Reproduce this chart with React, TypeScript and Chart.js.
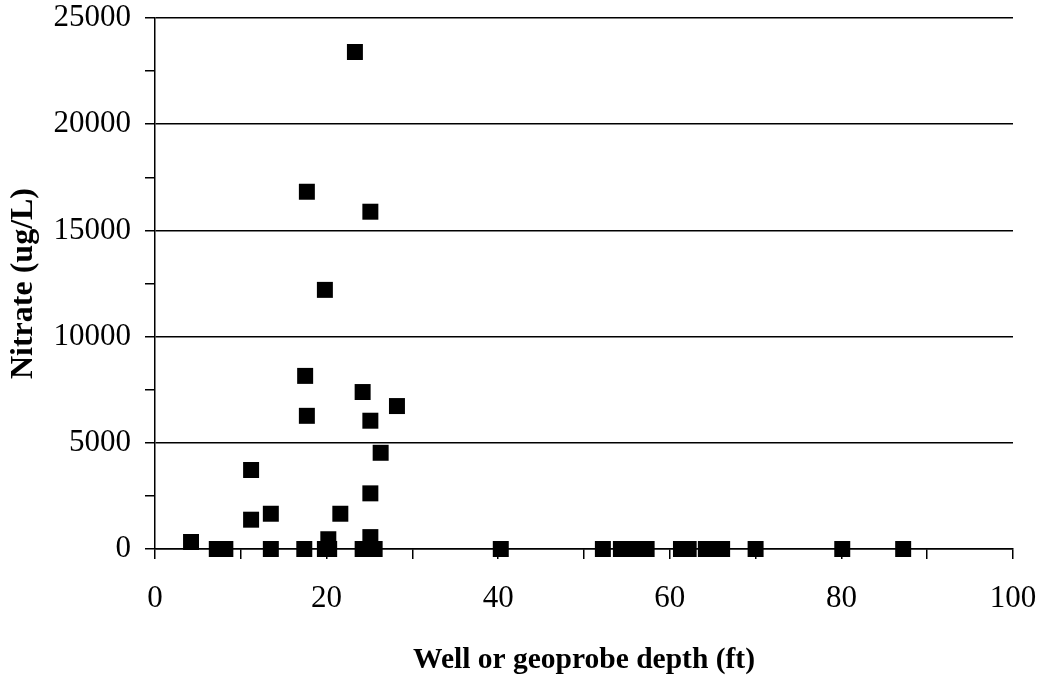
import React, { useEffect, useRef } from "react";
import { Chart, registerables } from "chart.js";

Chart.register(...registerables);

// Well or geoprobe depth (ft)
const depthFt: number[] = [
  23.3, 17.7, 25.1, 19.8, 17.5, 17.7, 24.2, 25.1, 28.2, 26.3,
  11.2, 11.2, 13.5, 21.6, 25.1, 4.2, 20.2, 25.1,
  7.2, 8.2, 13.5, 17.4, 19.8, 20.3, 24.2, 25.6,
  40.3, 52.2, 54.3, 55.3, 56.3, 57.3, 61.3, 62.2, 64.2, 65.1, 66.1, 70.0, 80.1, 87.2,
];

// Nitrate (ug/L)
const nitrateUgL: number[] = [
  23400, 16820, 15880, 12200, 8150, 6270, 7390, 6040, 6730, 4530,
  3720, 1380, 1660, 1660, 2620, 330, 460, 560,
  0, 0, 0, 0, 0, 0, 0, 0,
  0, 0, 0, 0, 0, 0, 0, 0, 0, 0, 0, 0, 0, 0,
];

const xTickLabels: string[] = ["0", "20", "40", "60", "80", "100"];
const yTickLabels: string[] = ["0", "5000", "10000", "15000", "20000", "25000"];

const xTitle = "Well or geoprobe depth (ft)";
const yTitle = "Nitrate (ug/L)";

const FONT = "'Liberation Serif', 'Times New Roman', serif";

export default function App() {
  const canvasRef = useRef<HTMLCanvasElement | null>(null);

  useEffect(() => {
    if (!canvasRef.current) return;
    const points = depthFt.map((x, i) => ({ x, y: nitrateUgL[i] }));
    const chart = new Chart(canvasRef.current, {
      type: "scatter",
      data: {
        datasets: [
          {
            label: "Nitrate",
            data: points,
            pointStyle: "rect",
            pointRadius: 11.3,
            pointHoverRadius: 11.3,
            backgroundColor: "#000",
            borderColor: "#000",
            borderWidth: 0,
            clip: false,
          },
        ],
      },
      options: {
        animation: false,
        responsive: false,
        devicePixelRatio: 1,
        events: [],
        layout: { padding: { left: 0, right: 29, top: 18, bottom: 0 } },
        plugins: {
          legend: { display: false },
          tooltip: { enabled: false },
        },
        scales: {
          x: {
            type: "linear",
            min: 0,
            max: 100,
            afterFit: (scale: any) => {
              scale.height = 129;
              scale.paddingLeft = 0;
              scale.paddingRight = 0;
              scale.paddingTop = 0;
              scale.paddingBottom = 0;
            },
            ticks: {
              stepSize: 10,
              autoSkip: false,
              maxRotation: 0,
              padding: 21,
              color: "#000",
              font: { family: FONT, size: 31 },
              callback: (v: any) => {
                const s = String(v);
                return xTickLabels.includes(s) ? s : "";
              },
            },
            grid: {
              drawOnChartArea: false,
              color: "#000",
              tickColor: "#000",
              tickLength: 10,
              lineWidth: 1.5,
            },
            border: { display: true, color: "#000", width: 1.5 },
            title: {
              display: true,
              text: xTitle,
              color: "#000",
              font: { family: FONT, size: 29.5, weight: "bold" },
              padding: { top: 0, bottom: 0 },
            },
          },
          y: {
            type: "linear",
            min: 0,
            max: 25000,
            afterFit: (scale: any) => {
              scale.width = 155;
              scale.paddingLeft = 0;
              scale.paddingRight = 0;
              scale.paddingTop = 0;
              scale.paddingBottom = 0;
            },
            ticks: {
              stepSize: 2500,
              autoSkip: false,
              padding: 14,
              color: "#000",
              font: { family: FONT, size: 31 },
              callback: (v: any) => {
                const s = String(v);
                return yTickLabels.includes(s) ? s : "";
              },
            },
            grid: {
              color: (ctx: any) =>
                ctx.tick && yTickLabels.includes(String(ctx.tick.value)) ? "#000" : "rgba(0,0,0,0)",
              tickColor: "#000",
              tickLength: 10,
              lineWidth: 1.5,
            },
            border: { display: true, color: "#000", width: 1.5 },
            title: {
              display: true,
              text: yTitle,
              color: "#000",
              font: { family: FONT, size: 32, weight: "bold" },
              padding: { top: 5, bottom: 0 },
            },
          },
        },
      },
    } as any);
    return () => chart.destroy();
  }, []);

  return (
    <div style={{ position: "fixed", left: 0, top: 0, width: 1042, height: 678, background: "#fff" }}>
      <canvas ref={canvasRef} width={1042} height={678} />
    </div>
  );
}
